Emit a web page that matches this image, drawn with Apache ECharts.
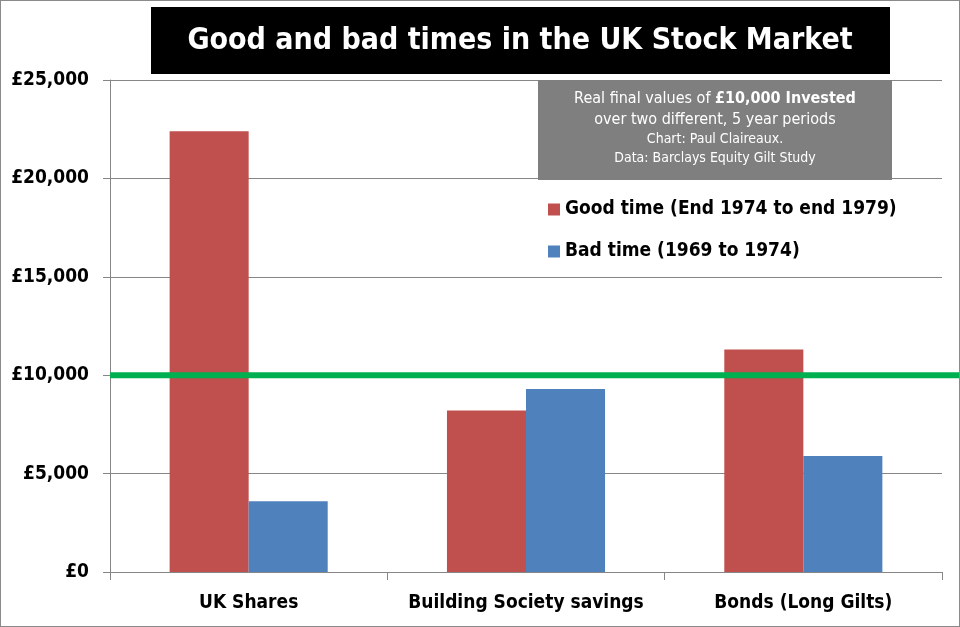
<!DOCTYPE html>
<html>
<head>
<meta charset="utf-8">
<script src="https://cdn.jsdelivr.net/npm/echarts@6/dist/echarts.min.js"></script>
<style>
html,body{margin:0;padding:0;background:#fff;}
#chart{width:958px;height:625px;border:1px solid #8a8a8a;}
</style>
</head>
<body>
<div id="chart"></div>
<script>
var categories = ['UK Shares', 'Building Society savings', 'Bonds (Long Gilts)'];
var goodTime = [22400, 8200, 11300];
var badTime = [3600, 9300, 5900];
var seriesNames = ['Good time (End 1974 to end 1979)', 'Bad time (1969 to 1974)'];
var referenceValue = 10000;
var yTicks = [0, 5000, 10000, 15000, 20000, 25000];

var FONT = '"Liberation Sans Narrow", "DejaVu Sans Condensed", "Open Sans", sans-serif';
var chart = echarts.init(document.getElementById('chart'));

function fmt(v){ return '£' + v.toString().replace(/\B(?=(\d{3})+(?!\d))/g, ','); }

chart.setOption({
  animation: false,
  color: ['#C0504D', '#4F81BD'],
  textStyle: { fontFamily: FONT },
  grid: [
    { left: 109, right: 17, top: 79, bottom: 54 },
    { left: 109, right: 0, top: 79, bottom: 54 }
  ],
  legend: {
    data: seriesNames,
    orient: 'vertical',
    left: 542,
    top: 194,
    itemWidth: 12,
    itemHeight: 12,
    itemGap: 23,
    icon: 'rect',
    textStyle: { fontFamily: FONT, fontWeight: 'bold', fontSize: 19, color: '#000' }
  },
  xAxis: [
    {
      type: 'category', data: categories, gridIndex: 0,
      axisLine: { lineStyle: { color: '#868686', width: 1 } },
      axisTick: { show: true, interval: 0, length: 8, lineStyle: { color: '#868686' } },
      axisLabel: { interval: 0, fontFamily: FONT, fontWeight: 'bold', fontSize: 19, color: '#000', margin: 22 }
    },
    { type: 'value', gridIndex: 1, min: 0, max: 1, show: false }
  ],
  yAxis: [
    {
      type: 'value', gridIndex: 0, min: yTicks[0], max: yTicks[yTicks.length-1], interval: yTicks[1]-yTicks[0],
      axisLine: { show: true, lineStyle: { color: '#868686' } },
      axisTick: { show: true, length: 7, lineStyle: { color: '#868686' } },
      splitLine: { lineStyle: { color: '#868686', width: 1 } },
      axisLabel: { fontFamily: FONT, fontWeight: 'bold', fontSize: 19, color: '#000', margin: 21, formatter: fmt }
    },
    { type: 'value', gridIndex: 1, min: yTicks[0], max: yTicks[yTicks.length-1], show: false }
  ],
  series: [
    { name: seriesNames[0], type: 'bar', data: goodTime, barGap: '0%', barCategoryGap: '43%', xAxisIndex: 0, yAxisIndex: 0 },
    { name: seriesNames[1], type: 'bar', data: badTime, barGap: '0%', barCategoryGap: '43%', xAxisIndex: 0, yAxisIndex: 0 },
    { name: 'ref', type: 'line', xAxisIndex: 1, yAxisIndex: 1, data: [[0, referenceValue], [1, referenceValue]],
      symbol: 'none', lineStyle: { color: '#00B050', width: 6 }, z: 5, silent: true }
  ],
  graphic: [
    { type: 'rect', x: 150, y: 6, shape: { width: 739, height: 67 }, style: { fill: '#000' }, z: 10 },
    { type: 'text', x: 519, y: 40, z: 11,
      style: { text: 'Good and bad times in the UK Stock Market', fill: '#fff', align: 'center', verticalAlign: 'middle', font: 'bold 30px ' + FONT } },
    { type: 'rect', x: 537, y: 79, shape: { width: 354, height: 100 }, style: { fill: '#7F7F7F' }, z: 10 },
    { type: 'text', x: 714, y: 87, z: 11,
      style: {
        text: '{a|Real final values of }{b|£10,000 Invested}\n{a|over two different, 5 year periods}\n{c|Chart: Paul Claireaux.}\n{c|Data: Barclays Equity Gilt Study}',
        align: 'center', verticalAlign: 'top', fill: '#fff',
        rich: {
          a: { fontFamily: FONT, fontSize: 16, fill: '#fff', lineHeight: 21 },
          b: { fontFamily: FONT, fontSize: 16, fontWeight: 'bold', fill: '#fff', lineHeight: 21 },
          c: { fontFamily: FONT, fontSize: 14, fill: '#fff', lineHeight: 19 }
        }
      } }
  ]
});
</script>
</body>
</html>
